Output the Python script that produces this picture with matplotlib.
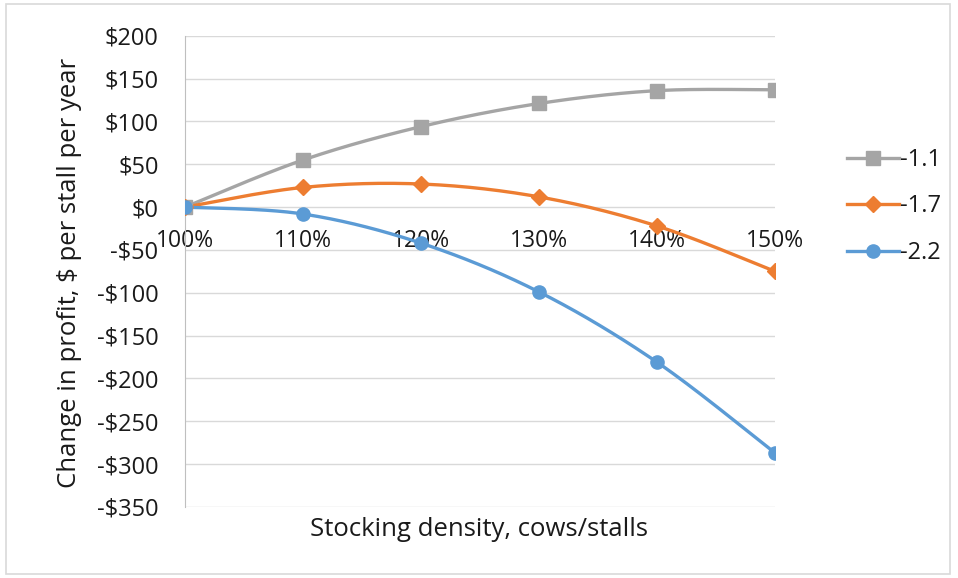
import numpy as np
import matplotlib
matplotlib.use("Agg")
import matplotlib.pyplot as plt
from matplotlib.lines import Line2D
from matplotlib.patches import Rectangle

categories = ["100%", "110%", "120%", "130%", "140%", "150%"]
x_vals = [100, 110, 120, 130, 140, 150]
series_names = ["-1.1", "-1.7", "-2.2"]
s_11 = [0, 55, 94, 121, 136, 137]
s_17 = [0, 23, 27, 12, -22, -75]
s_22 = [0, -8, -42, -99, -181, -287]
y_ticks = [200, 150, 100, 50, 0, -50, -100, -150, -200, -250, -300, -350]

colors = ["#A5A5A5", "#ED7D31", "#5B9BD5"]
markers = ["s", "D", "o"]
msizes = [10, 8.5, 9.5]

FONT = ["Open Sans", "DejaVu Sans"]


def smooth(xs, ys, n=40):
    P = np.column_stack([xs, ys]).astype(float)
    pts = []
    m = len(P)
    for i in range(m - 1):
        p0 = P[i - 1] if i > 0 else P[i]
        p1 = P[i]
        p2 = P[i + 1]
        p3 = P[i + 2] if i + 2 < m else P[i + 1]
        c1 = p1 + (p2 - p0) / 6.0
        c2 = p2 - (p3 - p1) / 6.0
        t = np.linspace(0, 1, n)[:, None]
        b = ((1 - t) ** 3) * p1 + 3 * ((1 - t) ** 2) * t * c1 + 3 * (1 - t) * t ** 2 * c2 + t ** 3 * p2
        pts.append(b if i == 0 else b[1:])
    return np.vstack(pts)


fig = plt.figure(figsize=(9.58, 5.78), dpi=100)
fig.patches.append(Rectangle((0.006, 0.007), 0.986, 0.986, transform=fig.transFigure,
                             fill=False, edgecolor="#d9d9d9", linewidth=1.2))
ax = fig.add_axes([0.193, 0.123, 0.616, 0.815])

for ys, c, mk, ms in zip([s_11, s_17, s_22], colors, markers, msizes):
    cur = smooth(x_vals, ys)
    ax.plot(cur[:, 0], cur[:, 1], color=c, lw=2.4, solid_capstyle="round", zorder=3)
    ax.plot(x_vals, ys, linestyle="none", marker=mk, color=c, markersize=ms, zorder=4)

ax.set_xlim(100, 150)
ax.set_ylim(-350, 200)
ax.spines["bottom"].set_position(("data", 0))
ax.spines["bottom"].set_visible(False)
for s in ["top", "right"]:
    ax.spines[s].set_visible(False)
ax.spines["left"].set_color("#bfbfbf")

ax.set_yticks(y_ticks)
ax.set_yticklabels([("-$%d" % abs(v)) if v < 0 else ("$%d" % v) for v in y_ticks])
ax.set_xticks(x_vals)
ax.set_xticklabels(categories)
ax.yaxis.grid(True, color="#d9d9d9", linewidth=1)
ax.set_axisbelow(True)
ax.tick_params(axis="y", length=0, pad=19, labelsize=17)
ax.tick_params(axis="x", length=0, pad=16, labelsize=16.5)
for lab in ax.get_xticklabels() + ax.get_yticklabels():
    lab.set_fontfamily(FONT)
    lab.set_color("#1a1a1a")

fig.text(70 / 958, 1 - 273 / 578, "Change in profit, $ per stall per year", rotation=90,
         ha="center", va="center", fontsize=18.5, family=FONT, color="#1a1a1a")
fig.text(479 / 958, 1 - 530 / 578, "Stocking density, cows/stalls", ha="center", va="center",
         fontsize=18.5, family=FONT, color="#1a1a1a")

handles = [Line2D([0], [0], color=c, lw=2.4, marker=mk, markersize=ms)
           for c, mk, ms in zip(colors, markers, msizes)]
fig.legend(handles, series_names, loc="center left", bbox_to_anchor=(0.862, 0.643),
           frameon=False, prop={"family": FONT, "size": 17},
           handlelength=2.2, handletextpad=0.05, labelspacing=0.95, labelcolor="#1a1a1a")

fig.savefig("out.png", dpi=100)
